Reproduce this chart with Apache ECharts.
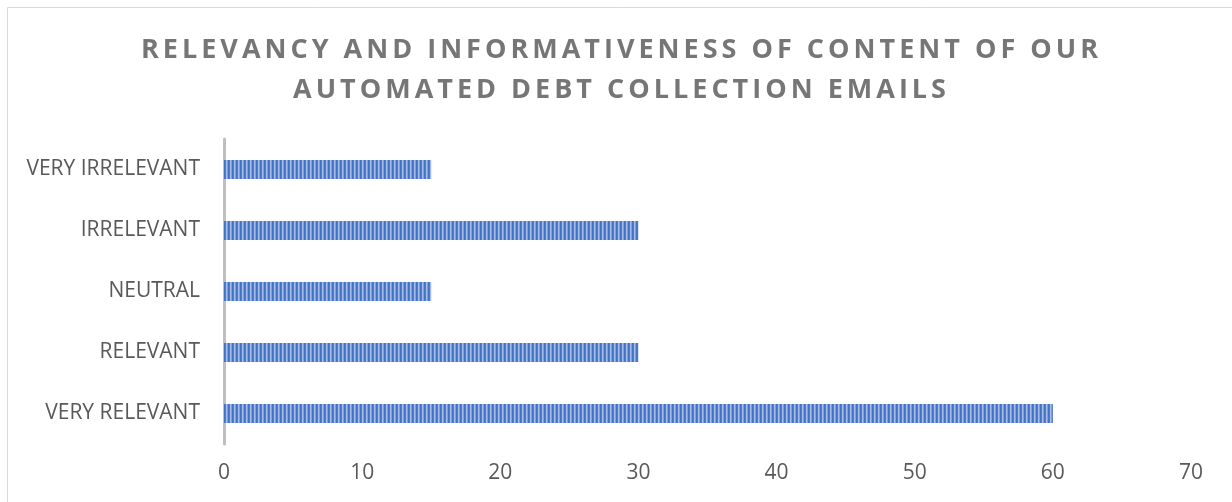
<!DOCTYPE html>
<html>
<head>
<meta charset="utf-8">
<script src="https://cdn.jsdelivr.net/npm/echarts@6/dist/echarts.min.js"></script>
<style>
  html, body { margin: 0; padding: 0; background: #fff; }
  #wrap { position: relative; width: 1232px; height: 502px; overflow: hidden; }
  #chart { position: absolute; left: 0; top: 0; width: 1232px; height: 502px; }
  #title {
    position: absolute; left: 7px; right: 0; top: 28px;
    text-align: center; font-family: "Open Sans", sans-serif; font-weight: 700;
    font-size: 27px; line-height: 40px; color: #767676; white-space: nowrap;
  }
  #title div { display: block; }
</style>
</head>
<body>
<div id="wrap">
  <div id="chart"></div>
  <div id="title">
    <div id="t1">RELEVANCY AND INFORMATIVENESS OF CONTENT OF OUR</div>
    <div id="t2">AUTOMATED DEBT COLLECTION EMAILS</div>
  </div>
</div>
<script>
// Survey responses, listed bottom-to-top as they appear on the category axis
const categories = ['VERY RELEVANT', 'RELEVANT', 'NEUTRAL', 'IRRELEVANT', 'VERY IRRELEVANT'];
const responses = [60, 30, 15, 30, 15];
const xTicks = { min: 0, max: 70, interval: 10 };

// Spread the title letters so the first line spans the width of the plot
(function () {
  const t1 = document.getElementById('t1');
  const t2 = document.getElementById('t2');
  const span = document.createElement('span');
  span.style.cssText = 'font:700 27px "Open Sans",sans-serif;position:absolute;visibility:hidden;white-space:nowrap';
  span.textContent = t1.textContent;
  document.body.appendChild(span);
  const w = span.getBoundingClientRect().width;
  document.body.removeChild(span);
  const n = t1.textContent.length;
  const ls = Math.max(0, (957 - w) / (n - 1));
  [t1, t2].forEach(el => {
    el.style.letterSpacing = ls + 'px';
    el.style.paddingLeft = ls + 'px';
  });
})();

// Vertical stripe fill for the bars
function stripePattern() {
  const c = document.createElement('canvas');
  c.width = 4; c.height = 4;
  const ctx = c.getContext('2d');
  const cols = ['#4472c4', '#4f7bc9', '#a6bde7', '#7f9fd8'];
  cols.forEach((col, i) => { ctx.fillStyle = col; ctx.fillRect(i, 0, 1, 4); });
  return c;
}

const chart = echarts.init(document.getElementById('chart'), null, { renderer: 'canvas' });
chart.setOption({
  animation: false,
  backgroundColor: 'transparent',
  graphic: [{
    type: 'rect',
    shape: { x: 7.5, y: 7.5, width: 1400, height: 700 },
    style: { fill: 'none', stroke: '#d9d9d9', lineWidth: 1 },
    silent: true
  }],
  grid: { left: 224, right: 41, top: 139, bottom: 58, containLabel: false },
  xAxis: {
    type: 'value',
    min: xTicks.min, max: xTicks.max, interval: xTicks.interval,
    axisLine: { show: false },
    axisTick: { show: false },
    splitLine: { show: false },
    axisLabel: {
      margin: 19,
      color: '#595959',
      fontFamily: 'Open Sans',
      fontSize: 21
    }
  },
  yAxis: {
    type: 'category',
    data: categories,
    axisLine: { show: true, lineStyle: { color: '#bfbfbf', width: 3 } },
    axisTick: { show: false },
    axisLabel: {
      margin: 24,
      color: '#595959',
      fontFamily: 'Open Sans',
      fontSize: 21
    }
  },
  series: [{
    type: 'bar',
    data: responses,
    barWidth: 19,
    itemStyle: {
      color: { image: stripePattern(), repeat: 'repeat' }
    }
  }]
});
</script>
</body>
</html>
